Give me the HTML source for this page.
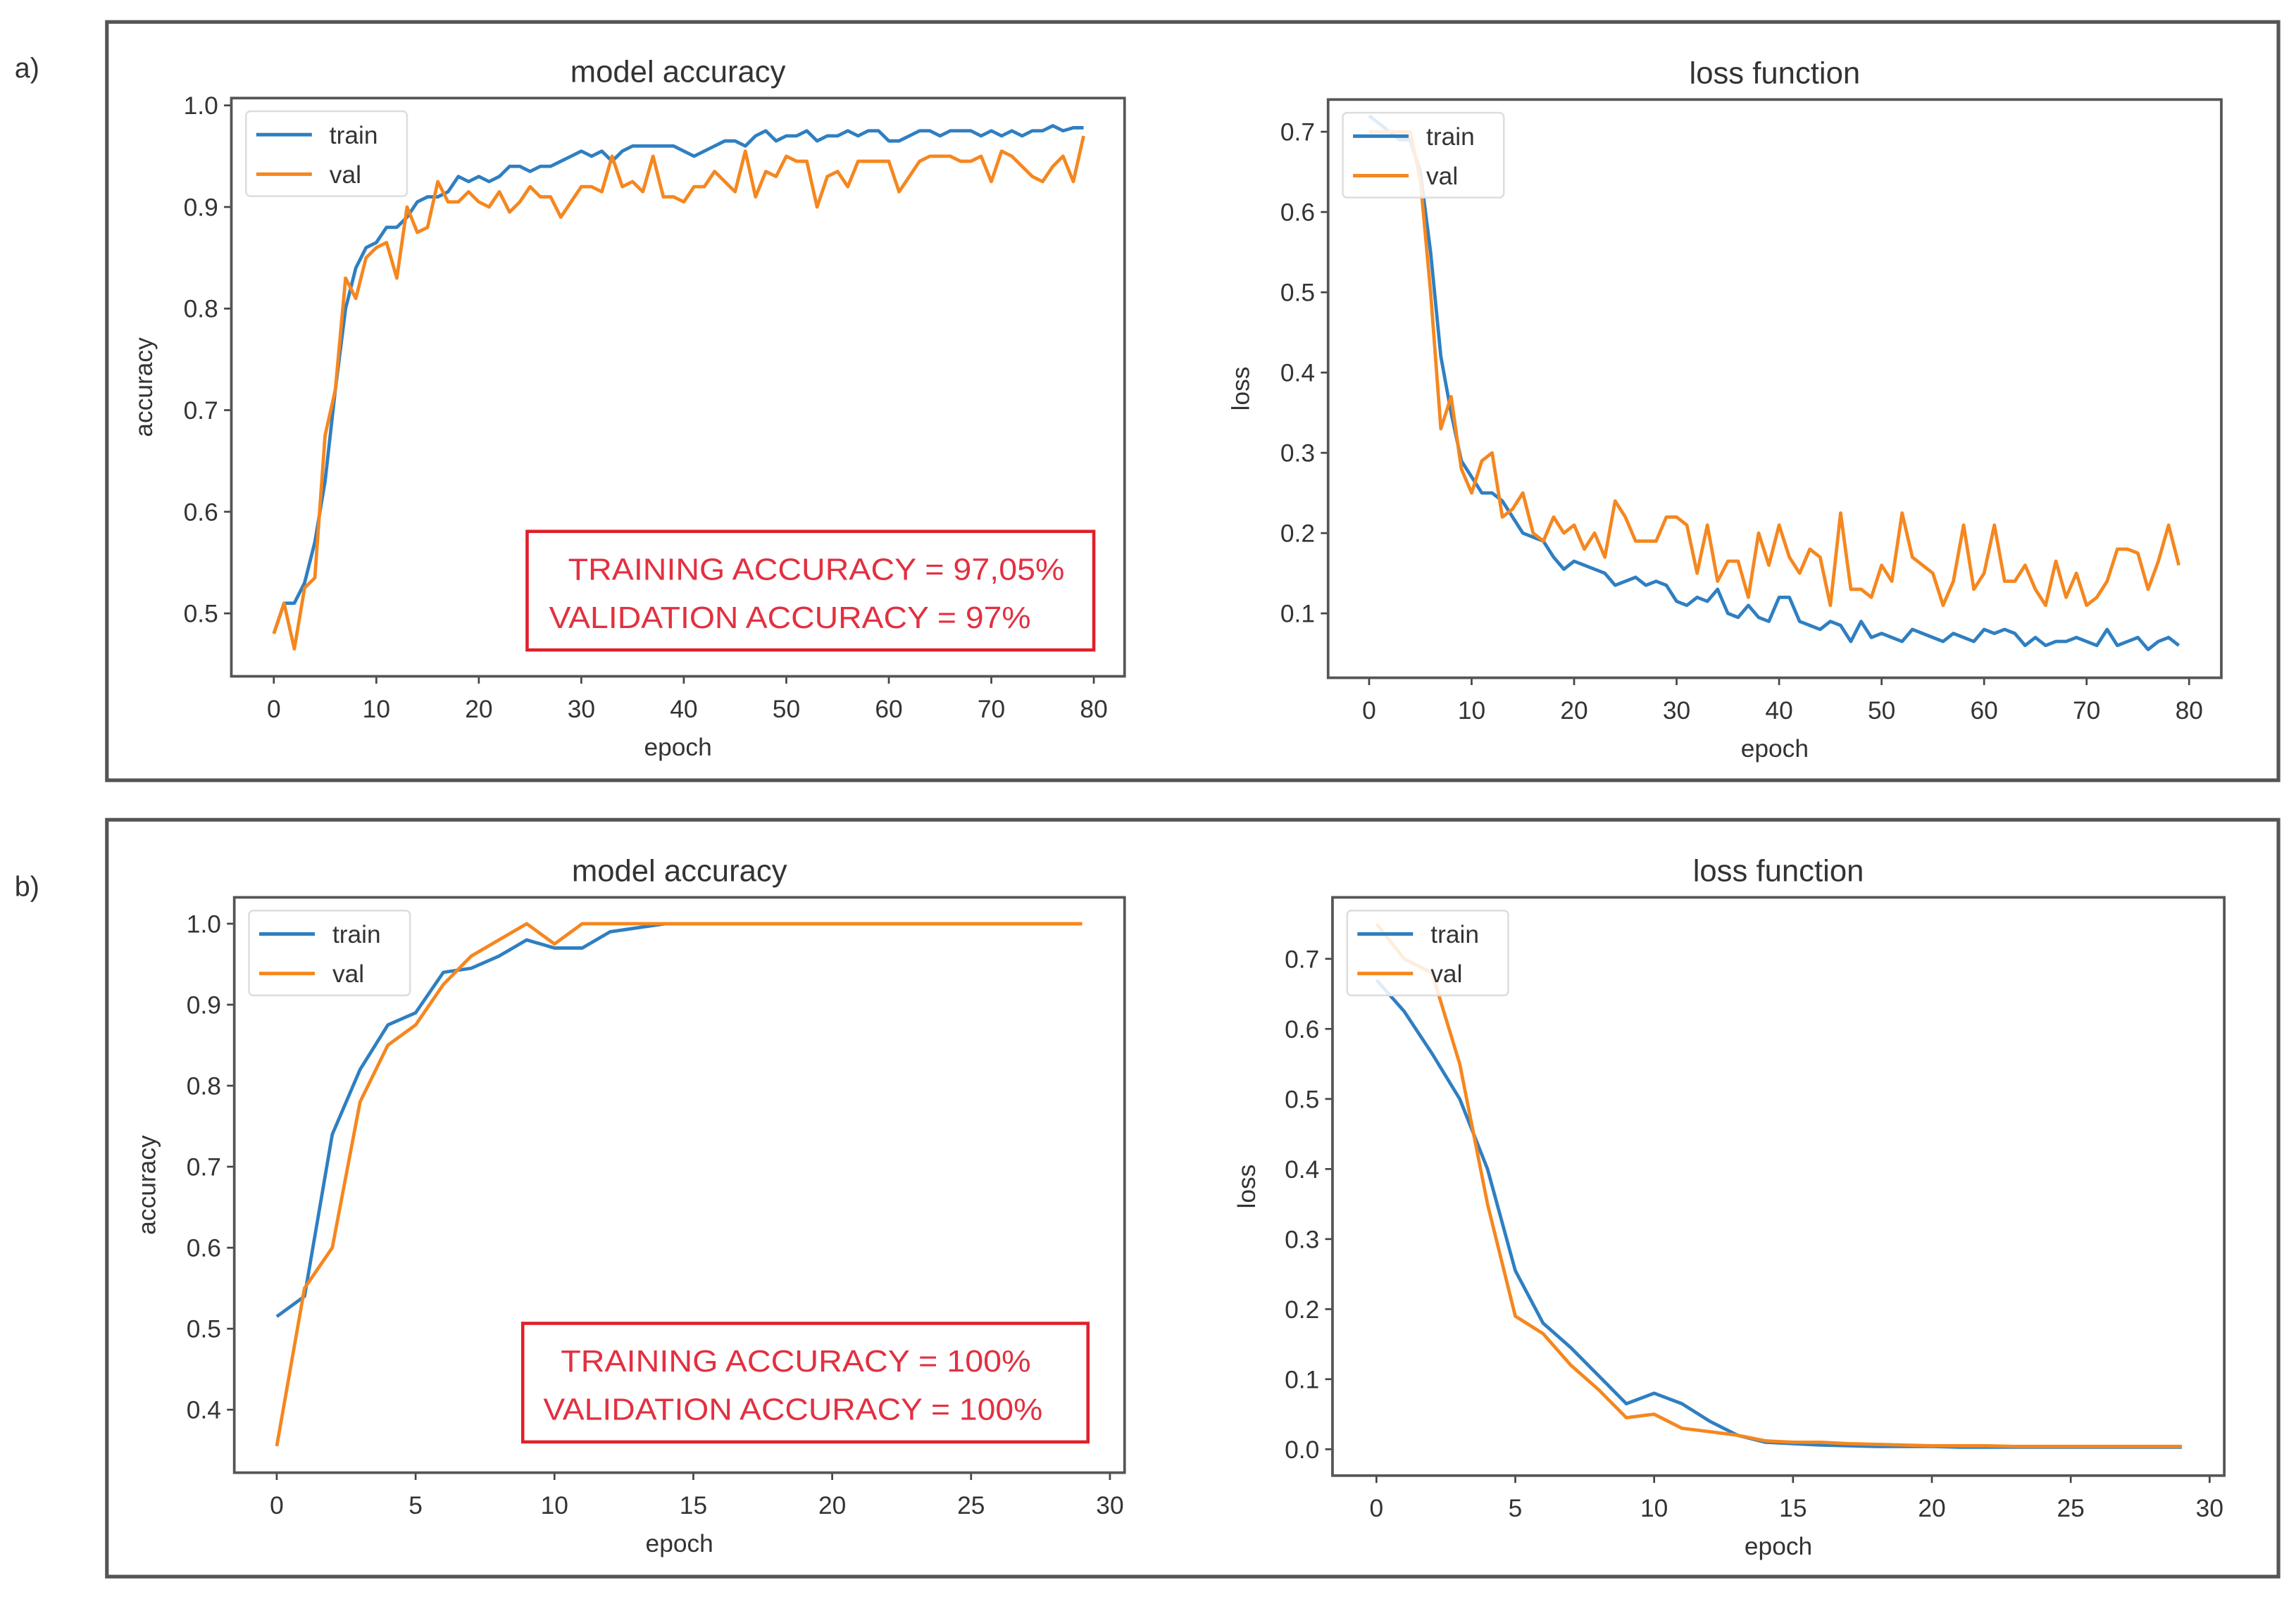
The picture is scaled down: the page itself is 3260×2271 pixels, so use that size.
<!DOCTYPE html>
<html><head><meta charset="utf-8"><style>
html,body{margin:0;padding:0;background:#fff;}
svg{display:block;}
text{font-family:"Liberation Sans",sans-serif;fill:#333;}
</style></head><body>
<svg id="fig" width="3260" height="2271" viewBox="0 0 1568 1092.3" preserveAspectRatio="none" xmlns="http://www.w3.org/2000/svg">
<rect x="0" y="0" width="1568" height="1093" fill="#fff"/>
<rect x="73" y="15" width="1483" height="518" fill="none" stroke="#555" stroke-width="2.5"/>
<rect x="73" y="560" width="1483" height="517" fill="none" stroke="#555" stroke-width="2.5"/>
<text x="10" y="53" font-size="19">a)</text>
<text x="10" y="612" font-size="19">b)</text>
<g id="charts"></g>
</svg>
<script>
// ----- panel a: accuracy -----
const aAccTrain=[0.48,0.51,0.51,0.53,0.57,0.63,0.72,0.80,0.84,0.86,0.865,0.88,0.88,0.89,0.905,0.91,0.91,0.915,0.93,0.925,0.93,0.925,0.93,0.94,0.94,0.935,0.94,0.94,0.945,0.95,0.955,0.95,0.955,0.945,0.955,0.96,0.96,0.96,0.96,0.96,0.955,0.95,0.955,0.96,0.965,0.965,0.96,0.97,0.975,0.965,0.97,0.97,0.975,0.965,0.97,0.97,0.975,0.97,0.975,0.975,0.965,0.965,0.97,0.975,0.975,0.97,0.975,0.975,0.975,0.97,0.975,0.97,0.975,0.97,0.975,0.975,0.98,0.975,0.978,0.978];
const aAccVal=[0.48,0.51,0.465,0.525,0.535,0.675,0.72,0.83,0.81,0.85,0.86,0.865,0.83,0.9,0.875,0.88,0.925,0.905,0.905,0.915,0.905,0.9,0.915,0.895,0.905,0.92,0.91,0.91,0.89,0.905,0.92,0.92,0.915,0.95,0.92,0.925,0.915,0.95,0.91,0.91,0.905,0.92,0.92,0.935,0.925,0.915,0.955,0.91,0.935,0.93,0.95,0.945,0.945,0.9,0.93,0.935,0.92,0.945,0.945,0.945,0.945,0.915,0.93,0.945,0.95,0.95,0.95,0.945,0.945,0.95,0.925,0.955,0.95,0.94,0.93,0.925,0.94,0.95,0.925,0.97];
// ----- panel a: loss -----
const aLossTrain=[0.72,0.71,0.70,0.69,0.69,0.65,0.55,0.42,0.35,0.29,0.27,0.25,0.25,0.24,0.22,0.2,0.195,0.19,0.17,0.155,0.165,0.16,0.155,0.15,0.135,0.14,0.145,0.135,0.14,0.135,0.115,0.11,0.12,0.115,0.13,0.1,0.095,0.11,0.095,0.09,0.12,0.12,0.09,0.085,0.08,0.09,0.085,0.065,0.09,0.07,0.075,0.07,0.065,0.08,0.075,0.07,0.065,0.075,0.07,0.065,0.08,0.075,0.08,0.075,0.06,0.07,0.06,0.065,0.065,0.07,0.065,0.06,0.08,0.06,0.065,0.07,0.055,0.065,0.07,0.06];
const aLossVal=[0.7,0.7,0.7,0.7,0.7,0.64,0.5,0.33,0.37,0.28,0.25,0.29,0.3,0.22,0.23,0.25,0.2,0.19,0.22,0.2,0.21,0.18,0.2,0.17,0.24,0.22,0.19,0.19,0.19,0.22,0.22,0.21,0.15,0.21,0.14,0.165,0.165,0.12,0.2,0.16,0.21,0.17,0.15,0.18,0.17,0.11,0.225,0.13,0.13,0.12,0.16,0.14,0.225,0.17,0.16,0.15,0.11,0.14,0.21,0.13,0.15,0.21,0.14,0.14,0.16,0.13,0.11,0.165,0.12,0.15,0.11,0.12,0.14,0.18,0.18,0.175,0.13,0.165,0.21,0.16];
// ----- panel b -----
const bAccTrain=[0.515,0.54,0.74,0.82,0.875,0.89,0.94,0.945,0.96,0.98,0.97,0.97,0.99,0.995,1,1,1,1,1,1,1,1,1,1,1,1,1,1,1,1];
const bAccVal=[0.355,0.55,0.60,0.78,0.85,0.875,0.925,0.96,0.98,1.0,0.975,1,1,1,1,1,1,1,1,1,1,1,1,1,1,1,1,1,1,1];
const bLossTrain=[0.67,0.625,0.565,0.5,0.4,0.255,0.18,0.145,0.105,0.065,0.08,0.065,0.04,0.02,0.01,0.008,0.006,0.005,0.004,0.004,0.004,0.003,0.003,0.003,0.003,0.003,0.003,0.003,0.003,0.003];
const bLossVal=[0.75,0.7,0.68,0.55,0.35,0.19,0.165,0.12,0.085,0.045,0.05,0.03,0.025,0.02,0.012,0.01,0.01,0.008,0.007,0.006,0.005,0.005,0.005,0.004,0.004,0.004,0.004,0.004,0.004,0.004];
// tick labels
const xTicksA=[0,10,20,30,40,50,60,70,80];
const xTicksB=[0,5,10,15,20,25,30];
const yTicksAAcc=[0.5,0.6,0.7,0.8,0.9,1.0];
const yTicksALoss=[0.1,0.2,0.3,0.4,0.5,0.6,0.7];
const yTicksBAcc=[0.4,0.5,0.6,0.7,0.8,0.9,1.0];
const yTicksBLoss=[0.0,0.1,0.2,0.3,0.4,0.5,0.6,0.7];

const NS='http://www.w3.org/2000/svg';
const root=document.getElementById('charts');
function mk(tag,attrs,parent){const e=document.createElementNS(NS,tag);for(const k in attrs)e.setAttribute(k,attrs[k]);(parent||root).appendChild(e);return e;}

function chart(cfg){
  const g=mk('g',{});
  
  
  const sx=v=>cfg.x0px+(v-0)*(cfg.x1px-cfg.x0px)/(cfg.x1v-0);
  const sy=v=>cfg.y0px+(v-cfg.y0v)*(cfg.y1px-cfg.y0px)/(cfg.y1v-cfg.y0v);
  const [L,T,R,B]=cfg.box;
  cfg.xt.forEach(t=>{
    const x=sx(t);
    const tk=mk('line',{x1:x,x2:x,y1:B,y2:B+5,stroke:'#444','stroke-width':1.3},g);
    
    
    const tx=mk('text',{x:x,y:B+28,'font-size':17,'text-anchor':'middle'},g);
    
    
    tx.textContent=t;
  });
  cfg.yt.forEach(t=>{
    const y=sy(t);
    const tk=mk('line',{x1:L-5,x2:L,y1:y,y2:y,stroke:'#444','stroke-width':1.3},g);
    
    
    const tx=mk('text',{x:L-9,y:y+6,'font-size':17,'text-anchor':'end'},g);
    
    
    tx.textContent=t.toFixed(1);
  });
  const series=[[cfg.train,'#2f7fc1','train-line'],[cfg.val,'#f5871f','val-line']];
  series.forEach(([arr,col,nm])=>{
    const p=mk('polyline',{points:arr.map((v,i)=>sx(i)+','+sy(v)).join(' '),fill:'none',stroke:col,'stroke-width':2.3,'stroke-linejoin':'round'},g);
    
    
  });
  const ax=mk('rect',{x:L,y:T,width:R-L,height:B-T,fill:'none',stroke:'#555','stroke-width':1.8},g);
  
  
  const ti=mk('text',{x:(L+R)/2,y:T-11,'font-size':21,'text-anchor':'middle'},g);
  
  
  ti.textContent=cfg.title;
  const xl=mk('text',{x:(L+R)/2,y:B+54,'font-size':17,'text-anchor':'middle'},g);
  
  
  xl.textContent='epoch';
  const yl=mk('text',{x:0,y:0,'font-size':17,'text-anchor':'middle',transform:`translate(${cfg.ylx},${(T+B)/2}) rotate(-90)`},g);
  
  
  yl.textContent=cfg.ylabel;
  const lx=L+10, ly=T+9;
  const lg=mk('g',{},g);
  
  
  mk('rect',{x:lx,y:ly,width:110,height:58,rx:3,fill:'rgba(255,255,255,0.85)',stroke:'#ddd','stroke-width':1.2},lg);
  [['train','#2f7fc1',16],['val','#f5871f',43]].forEach(([lab,col,dy])=>{
    const e=mk('g',{},lg);
    
    
    mk('line',{x1:lx+7,x2:lx+45,y1:ly+dy,y2:ly+dy,stroke:col,'stroke-width':2.4},e);
    const t=mk('text',{x:lx+57,y:ly+dy+6,'font-size':17},e);
    t.textContent=lab;
  });
  if(cfg.note){
    const n=cfg.note;
    const ng=mk('g',{},g);
    
    
    mk('rect',{x:n.x,y:n.y,width:n.w,height:n.h,fill:'#fff',stroke:'#e0202a','stroke-width':2.2},ng);
    n.lines.forEach(l=>{
      const t=mk('text',{x:l[0],y:l[1],'font-size':21,textLength:l[2],lengthAdjust:'spacingAndGlyphs',style:'fill:#e23040'},ng);
      t.textContent=l[3];
    });
  }
}

chart({name:'panel-a-accuracy-chart',box:[158,67,768,462],x0px:187,x1px:747,x1v:80,y0v:0.5,y0px:419,y1v:1.0,y1px:72,
  xt:xTicksA,yt:yTicksAAcc,train:aAccTrain,val:aAccVal,title:'model accuracy',ylabel:'accuracy',ylx:104,
  note:{x:360,y:363,w:387,h:81,lines:[[388,396,339,'TRAINING ACCURACY = 97,05%'],[375,429,329,'VALIDATION ACCURACY = 97%']]}});
chart({name:'panel-a-loss-chart',box:[907,68,1517,463],x0px:935,x1px:1495,x1v:80,y0v:0.1,y0px:419,y1v:0.7,y1px:90,
  xt:xTicksA,yt:yTicksALoss,train:aLossTrain,val:aLossVal,title:'loss function',ylabel:'loss',ylx:853});
chart({name:'panel-b-accuracy-chart',box:[160,613,768,1006],x0px:189,x1px:758,x1v:30,y0v:0.4,y0px:963,y1v:1.0,y1px:631,
  xt:xTicksB,yt:yTicksBAcc,train:bAccTrain,val:bAccVal,title:'model accuracy',ylabel:'accuracy',ylx:106,
  note:{x:357,y:904,w:386,h:81,lines:[[383,937,321,'TRAINING ACCURACY = 100%'],[371,970,341,'VALIDATION ACCURACY = 100%']]}});
chart({name:'panel-b-loss-chart',box:[910,613,1519,1008],x0px:940,x1px:1509,x1v:30,y0v:0.0,y0px:990,y1v:0.7,y1px:655,
  xt:xTicksB,yt:yTicksBLoss,train:bLossTrain,val:bLossVal,title:'loss function',ylabel:'loss',ylx:857});
</script>
</body></html>
